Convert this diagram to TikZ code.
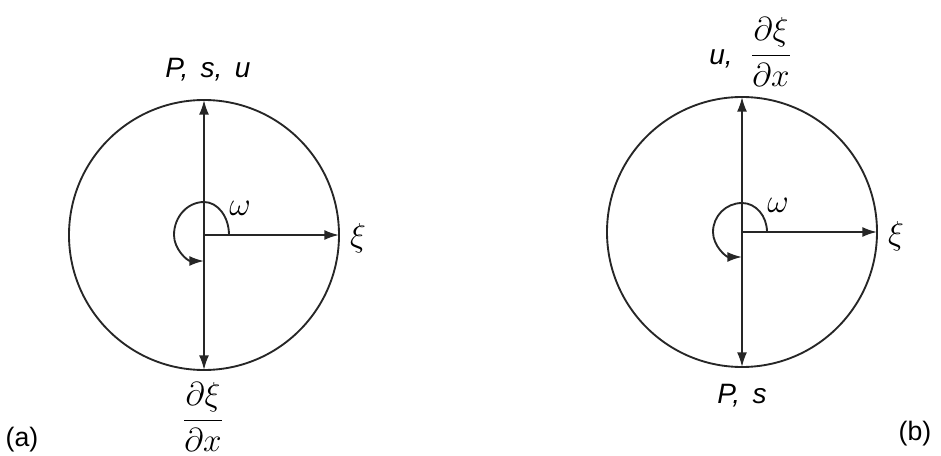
\documentclass[tikz,border=0pt]{standalone}
\usepackage{fontspec}
\setmainfont{Liberation Sans}
\usetikzlibrary{arrows.meta}
\tikzset{
  ln/.style={line width=1.4pt, draw=black!85},
  arr/.style={ln, -{Latex[length=11pt,width=7.5pt]}},
  darr/.style={ln, {Latex[length=11pt,width=7.5pt]}-{Latex[length=11pt,width=7.5pt]}},
  txt/.style={inner sep=0pt, font=\fontsize{21}{24}\selectfont\itshape},
  sym/.style={inner sep=0pt, font=\fontsize{30}{34}\selectfont},
  frac/.style={inner sep=0pt, font=\fontsize{26}{30}\selectfont},
  tag/.style={inner sep=0pt, font=\fontsize{20}{24}\selectfont}
}
\begin{document}
\begin{tikzpicture}[x=0.75pt,y=-0.75pt]
\useasboundingbox (0,0) rectangle (941,456);
% ---------- (a)
\coordinate (Ca) at (204,235);
\coordinate (Ta) at (204,100);
\coordinate (Ba) at (204,370);
\coordinate (Ra) at (339,235);
\draw[ln] (Ca) circle[radius=135];
\draw[darr] (Ta) -- (Ba);
\draw[arr] (Ca) -- (Ra);
\coordinate (Sa) at (229,235);
\draw[arr] (Sa) arc[start angle=0,end angle=-90,x radius=25,y radius=33]
  arc[start angle=-90,end angle=-180,x radius=30,y radius=33]
  arc[start angle=-180,end angle=-270,x radius=30,y radius=26];
\node[txt] (la) at (208,70) {P,\, s,\, u};
\node[sym] (xa) at (358,238) {$\xi$};
\node[sym] (wa) at (240,208) {$\omega$};
\node[frac] (fa) at (203,417) {$\displaystyle\frac{\partial\xi}{\partial x}$};
\node[tag] (ta) at (22,440) {(a)};
% ---------- (b)
\coordinate (Cb) at (742,232);
\coordinate (Tb) at (742,97);
\coordinate (Bb) at (742,367);
\coordinate (Rb) at (877,232);
\draw[ln] (Cb) circle[radius=135];
\draw[darr] (Tb) -- (Bb);
\draw[arr] (Cb) -- (Rb);
\coordinate (Sb) at (767,232);
\draw[arr] (Sb) arc[start angle=0,end angle=-90,x radius=25,y radius=29]
  arc[start angle=-90,end angle=-180,x radius=29,y radius=29]
  arc[start angle=-180,end angle=-270,x radius=29,y radius=25];
\node[sym] (xb) at (896,236) {$\xi$};
\node[sym] (wb) at (778,205) {$\omega$};
\node[txt, anchor=base] (ub) at (721,65) {u,};
\node[frac] (fb) at (771,52) {$\displaystyle\frac{\partial\xi}{\partial x}$};
\node[txt] (lb) at (742,396) {P,\, s};
\node[tag] (tb) at (915,434) {(b)};
\end{tikzpicture}
\end{document}
